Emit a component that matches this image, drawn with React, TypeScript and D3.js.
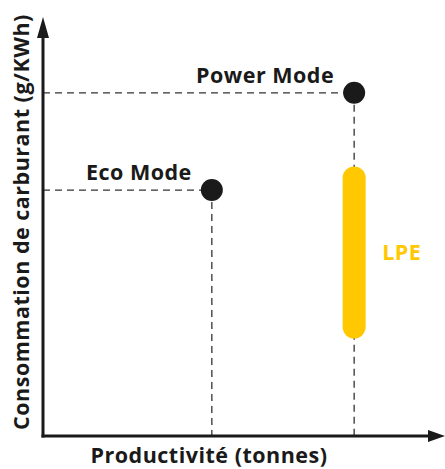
import React, { useEffect, useRef } from "react";
import * as d3 from "d3";

// operating modes (productivity, fuel consumption), arbitrary units 0-10
const modeNames = ["Eco Mode", "Power Mode"];
const modeX = [4.2, 7.74];
const modeY = [5.87, 8.19];

// LPE range
const lpeName = "LPE";
const lpeX = 7.74;
const lpeRange = [2.6, 6.16];

const xTitle = "Productivité (tonnes)";
const yTitle = "Consommation de carburant (g/KWh)";

const App = () => {
    const ref = useRef<SVGSVGElement>(null);

    useEffect(() => {
        const svg = d3.select(ref.current);
        svg.selectAll("*").remove();

        const width = 445;
        const height = 469;
        const x = d3.scaleLinear().domain([0, 10]).range([43, 445]);
        const y = d3.scaleLinear().domain([0, 10]).range([436, 17]);
        const font = "'Open Sans', sans-serif";
        const fs = 21.5;
        const ls = 0.5;
        const ink = "#1a1a1a";

        svg.attr("width", width).attr("height", height);

        // dashed guide lines
        const guides = svg.append("g")
            .attr("stroke", "#333")
            .attr("stroke-width", 1.3)
            .attr("stroke-dasharray", "7,5");
        modeX.forEach((mx, i) => {
            guides.append("line")
                .attr("x1", x(0)).attr("x2", x(mx))
                .attr("y1", y(modeY[i])).attr("y2", y(modeY[i]));
            guides.append("line")
                .attr("x1", x(mx)).attr("x2", x(mx))
                .attr("y1", y(modeY[i])).attr("y2", y(0));
        });

        // LPE bar
        svg.append("line")
            .attr("x1", x(lpeX)).attr("x2", x(lpeX))
            .attr("y1", y(lpeRange[0])).attr("y2", y(lpeRange[1]))
            .attr("stroke", "#ffc800")
            .attr("stroke-width", 23)
            .attr("stroke-linecap", "round");
        svg.append("text")
            .attr("x", x(lpeX) + 28)
            .attr("y", (y(lpeRange[0]) + y(lpeRange[1])) / 2 + 8)
            .attr("fill", "#ffc800")
            .attr("font-family", font)
            .attr("font-weight", "bold")
            .attr("font-size", fs)
            .attr("letter-spacing", ls)
            .text(lpeName);

        // axes with arrows
        svg.append("line")
            .attr("x1", x(0)).attr("x2", x(0))
            .attr("y1", y(0) + 1.5).attr("y2", 36)
            .attr("stroke", ink).attr("stroke-width", 3);
        svg.append("path")
            .attr("d", `M${x(0)},17 L${x(0) - 6},38 L${x(0) + 6},38 Z`)
            .attr("fill", ink);
        svg.append("line")
            .attr("x1", x(0) - 1.5).attr("x2", 430)
            .attr("y1", y(0)).attr("y2", y(0))
            .attr("stroke", ink).attr("stroke-width", 3);
        svg.append("path")
            .attr("d", `M445,${y(0)} L428,${y(0) - 6} L428,${y(0) + 6} Z`)
            .attr("fill", ink);

        // mode points
        svg.selectAll(".dot")
            .data(modeX)
            .enter()
            .append("circle")
            .attr("class", "dot")
            .attr("cx", d => x(d))
            .attr("cy", (d, i) => y(modeY[i]))
            .attr("r", 11)
            .attr("fill", ink);
        svg.selectAll(".lbl")
            .data(modeNames)
            .enter()
            .append("text")
            .attr("class", "lbl")
            .attr("x", (d, i) => x(modeX[i]) - 20)
            .attr("y", (d, i) => y(modeY[i]) - 10)
            .attr("text-anchor", "end")
            .attr("fill", ink)
            .attr("font-family", font)
            .attr("font-weight", "bold")
            .attr("font-size", fs)
            .attr("letter-spacing", ls)
            .text(d => d);

        // axis titles
        svg.append("text")
            .attr("x", 209)
            .attr("y", 463)
            .attr("text-anchor", "middle")
            .attr("fill", ink)
            .attr("font-family", font)
            .attr("font-weight", "bold")
            .attr("font-size", fs)
            .attr("letter-spacing", ls)
            .text(xTitle);
        svg.append("text")
            .attr("transform", "translate(29,222) rotate(-90)")
            .attr("text-anchor", "middle")
            .attr("fill", ink)
            .attr("font-family", font)
            .attr("font-weight", "bold")
            .attr("font-size", fs)
            .attr("letter-spacing", ls)
            .text(yTitle);
    }, []);

    return (
        <svg ref={ref} style={{ position: "absolute", left: 0, top: 0, background: "#fff" }}></svg>
    );
};

export default App;
